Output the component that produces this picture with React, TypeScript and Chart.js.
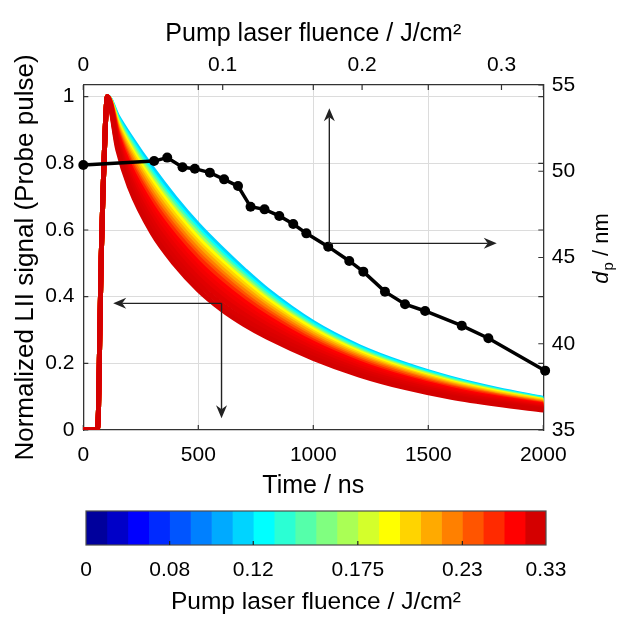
import React, { useEffect, useRef } from "react";
import { Chart, registerables } from "chart.js";

Chart.register(...registerables);

const FONT = "'Liberation Sans', Arial, Helvetica, sans-serif";

// ---------- axis ticks ----------
const timeTicks = [0, 500, 1000, 1500, 2000];
const signalTicks = [0, 0.2, 0.4, 0.6, 0.8, 1];
const signalTickLabels = ["0", "0.2", "0.4", "0.6", "0.8", "1"];
const fluenceTicks = [0, 0.1, 0.2, 0.3];
const fluenceTickLabels = ["0", "0.1", "0.2", "0.3"];
const dpTicks = [35, 40, 45, 50, 55];

// ---------- LII signals (time in ns) ----------
const riseTimes = [0, 30, 60, 66, 72, 78, 86, 94, 100, 104];
const riseSignal = [0, 0, 0, 0.06, 0.3, 0.52, 0.72, 0.88, 0.97, 1.0];
const decayTimes = [150, 200, 300, 400, 500, 600, 700, 800, 1000, 1200, 1400, 1600, 1800, 2000];

const liiSkyBlue = [0.94, 0.885, 0.785, 0.695, 0.615, 0.545, 0.48, 0.42, 0.322, 0.25, 0.197, 0.155, 0.122, 0.095];
const liiCyan = [0.934, 0.876, 0.773, 0.683, 0.603, 0.534, 0.47, 0.412, 0.316, 0.245, 0.193, 0.152, 0.119, 0.093];
const liiMint = [0.929, 0.868, 0.764, 0.673, 0.594, 0.525, 0.462, 0.404, 0.31, 0.241, 0.189, 0.149, 0.117, 0.091];
const liiLime = [0.924, 0.86, 0.754, 0.663, 0.584, 0.516, 0.454, 0.397, 0.305, 0.236, 0.186, 0.146, 0.115, 0.089];
const liiYellow = [0.919, 0.852, 0.744, 0.653, 0.574, 0.507, 0.446, 0.39, 0.3, 0.232, 0.182, 0.143, 0.113, 0.088];
const liiGold = [0.913, 0.843, 0.732, 0.641, 0.562, 0.496, 0.436, 0.382, 0.293, 0.227, 0.178, 0.14, 0.11, 0.086];
const liiAmber = [0.907, 0.834, 0.721, 0.629, 0.551, 0.485, 0.426, 0.373, 0.287, 0.222, 0.174, 0.136, 0.107, 0.083];
const liiOrange = [0.901, 0.825, 0.709, 0.617, 0.539, 0.474, 0.416, 0.365, 0.28, 0.217, 0.17, 0.133, 0.104, 0.081];
const liiDarkOrange = [0.895, 0.815, 0.697, 0.605, 0.527, 0.463, 0.406, 0.356, 0.274, 0.212, 0.166, 0.129, 0.102, 0.079];
const liiRedOrange = [0.889, 0.806, 0.686, 0.593, 0.516, 0.452, 0.396, 0.348, 0.267, 0.207, 0.161, 0.126, 0.099, 0.077];
const liiRed1 = [0.882, 0.795, 0.672, 0.579, 0.502, 0.439, 0.385, 0.338, 0.26, 0.201, 0.156, 0.122, 0.096, 0.075];
const liiRed2 = [0.874, 0.783, 0.656, 0.563, 0.486, 0.424, 0.372, 0.326, 0.251, 0.194, 0.151, 0.117, 0.092, 0.072];
const liiRed3 = [0.866, 0.77, 0.641, 0.547, 0.471, 0.41, 0.359, 0.315, 0.243, 0.187, 0.145, 0.113, 0.089, 0.069];
const liiRed4 = [0.858, 0.758, 0.625, 0.531, 0.455, 0.395, 0.346, 0.304, 0.234, 0.18, 0.14, 0.108, 0.085, 0.066];
const liiRed5 = [0.849, 0.744, 0.608, 0.513, 0.438, 0.378, 0.331, 0.291, 0.225, 0.173, 0.133, 0.103, 0.081, 0.063];
const liiDarkRed = [0.84, 0.73, 0.59, 0.495, 0.42, 0.362, 0.316, 0.278, 0.215, 0.165, 0.127, 0.098, 0.077, 0.06];

// drawn in this order: first = bottom, last = on top
const liiSeries = [liiSkyBlue, liiCyan, liiMint, liiLime, liiYellow, liiGold, liiAmber, liiOrange, liiDarkOrange, liiRedOrange, liiRed1, liiRed2, liiRed3, liiRed4, liiRed5, liiDarkRed];
const liiColors = ["#00D2FF", "#00FFFF", "#55FFAA", "#AAFF55", "#FFFF00", "#FFD500", "#FFAA00", "#FF8000", "#FF5500", "#FF2A00", "#FF0000", "#F40000", "#EA0000", "#E00000", "#DA0000", "#D40000"];

// ---------- particle diameter vs fluence ----------
const fluence = [0, 0.0508, 0.0602, 0.0712, 0.08, 0.0908, 0.101, 0.111, 0.12, 0.13, 0.1406, 0.1506, 0.16, 0.1757, 0.1908, 0.2009, 0.2164, 0.2308, 0.2452, 0.2715, 0.2906, 0.3313];
const particleDiameter = [50.36, 50.59, 50.79, 50.23, 50.15, 49.92, 49.53, 49.14, 47.94, 47.79, 47.41, 46.94, 46.4, 45.63, 44.8, 44.18, 43.02, 42.29, 41.9, 41.05, 40.32, 38.44];

// ---------- arrows (data coordinates) ----------
const arrowDpCorner = [0.1765, 45.82]; // fluence, d_p
const arrowDpUpTip = 53.65; // d_p
const arrowDpRightTip = 0.2966; // fluence
const arrowLiiCorner = [601, 0.38]; // ns, signal
const arrowLiiLeftTip = 130; // ns
const arrowLiiDownTip = 0.035; // signal

// ---------- colour bar ----------
const cbColors = ["#00009C", "#0000C8", "#0000FF", "#002AFF", "#0055FF", "#0080FF", "#00AAFF", "#00D4FF", "#00FFFF", "#2BFFD4", "#55FFAA", "#80FF80", "#AAFF55", "#D4FF2B", "#FFFF00", "#FFD400", "#FFAA00", "#FF8000", "#FF5500", "#FF2A00", "#FF0000", "#D40000"];
const cbTickPositions = [0, 4, 8, 13, 18, 22];
const cbTickLabels = ["0", "0.08", "0.12", "0.175", "0.23", "0.33"];

const AXIS_COLOR = "#333333";
const GRID_COLOR = "#DCDCDC";

function drawArrow(ctx: any, x1: number, y1: number, x2: number, y2: number) {
  const len = 13, half = 5.5, notch = 4;
  const ang = Math.atan2(y2 - y1, x2 - x1);
  const c = Math.cos(ang), s = Math.sin(ang);
  const nx = x2 - c * (len - notch), ny = y2 - s * (len - notch);
  ctx.beginPath();
  ctx.moveTo(x1, y1);
  ctx.lineTo(nx, ny);
  ctx.stroke();
  const bx = x2 - c * len, by = y2 - s * len;
  const px = -s, py = c;
  ctx.beginPath();
  ctx.moveTo(x2, y2);
  ctx.lineTo(bx + px * half, by + py * half);
  ctx.lineTo(nx, ny);
  ctx.lineTo(bx - px * half, by - py * half);
  ctx.closePath();
  ctx.fill();
}

const insideTicksPlugin = {
  id: "insideTicks",
  beforeDatasetsDraw(chart: any) {
    const { ctx, chartArea: a, scales } = chart;
    const L = 5;
    ctx.save();
    ctx.strokeStyle = AXIS_COLOR;
    ctx.lineWidth = 1.2;
    ctx.beginPath();
    timeTicks.forEach((v) => {
      const x = scales.x.getPixelForValue(v);
      ctx.moveTo(x, a.bottom); ctx.lineTo(x, a.bottom - L);
      ctx.moveTo(x, a.top); ctx.lineTo(x, a.top + L);
    });
    signalTicks.forEach((v) => {
      const y = scales.y.getPixelForValue(v);
      ctx.moveTo(a.left, y); ctx.lineTo(a.left + L, y);
      ctx.moveTo(a.right, y); ctx.lineTo(a.right - L, y);
    });
    fluenceTicks.forEach((v) => {
      const x = scales.xTop.getPixelForValue(v);
      ctx.moveTo(x, a.top); ctx.lineTo(x, a.top + L);
    });
    dpTicks.forEach((v) => {
      const y = scales.yRight.getPixelForValue(v);
      ctx.moveTo(a.right, y); ctx.lineTo(a.right - L, y);
    });
    ctx.stroke();
    ctx.restore();
  },
};

const arrowsPlugin = {
  id: "arrows",
  afterDatasetsDraw(chart: any) {
    const { ctx, scales } = chart;
    ctx.save();
    ctx.strokeStyle = "#222222";
    ctx.fillStyle = "#222222";
    ctx.lineWidth = 1.4;
    const cx = scales.xTop.getPixelForValue(arrowDpCorner[0]);
    const cy = scales.yRight.getPixelForValue(arrowDpCorner[1]);
    drawArrow(ctx, cx, cy, cx, scales.yRight.getPixelForValue(arrowDpUpTip));
    drawArrow(ctx, cx, cy, scales.xTop.getPixelForValue(arrowDpRightTip), cy);
    const lx = scales.x.getPixelForValue(arrowLiiCorner[0]);
    const ly = scales.y.getPixelForValue(arrowLiiCorner[1]);
    drawArrow(ctx, lx, ly, scales.x.getPixelForValue(arrowLiiLeftTip), ly);
    drawArrow(ctx, lx, ly, lx, scales.y.getPixelForValue(arrowLiiDownTip));
    ctx.restore();
  },
};

const dpTitlePlugin = {
  id: "dpTitle",
  afterDraw(chart: any) {
    const { ctx } = chart;
    const mainFont = `22px ${FONT}`;
    const italFont = `italic 22px ${FONT}`;
    const subFont = `15px ${FONT}`;
    ctx.save();
    ctx.fillStyle = "#000";
    ctx.textBaseline = "alphabetic";
    ctx.textAlign = "left";
    ctx.font = italFont;
    const wd = ctx.measureText("d").width;
    ctx.font = subFont;
    const wp = ctx.measureText("p").width;
    ctx.font = mainFont;
    const wr = ctx.measureText(" / nm").width;
    const total = wd + wp + wr;
    ctx.translate(608, 249);
    ctx.rotate(-Math.PI / 2);
    let x0 = -total / 2;
    ctx.font = italFont;
    ctx.fillText("d", x0, 0);
    x0 += wd + 1;
    ctx.font = subFont;
    ctx.fillText("p", x0, 5);
    x0 += wp;
    ctx.font = mainFont;
    ctx.fillText(" / nm", x0, 0);
    ctx.restore();
  },
};

const colorbarFramePlugin = {
  id: "cbFrame",
  afterDatasetsDraw(chart: any) {
    const { ctx, chartArea: a, scales } = chart;
    ctx.save();
    ctx.strokeStyle = "#4D4D4D";
    ctx.lineWidth = 1.2;
    ctx.strokeRect(a.left, a.top, a.right - a.left, a.bottom - a.top);
    ctx.beginPath();
    cbTickPositions.slice(1, -1).forEach((v) => {
      const x = scales.x.getPixelForValue(v);
      ctx.moveTo(x, a.bottom);
      ctx.lineTo(x, a.bottom - 4);
    });
    ctx.strokeStyle = "#222";
    ctx.stroke();
    ctx.restore();
  },
};

function edgeTransparent(edges: number[]) {
  return (c: any) => (c.tick && edges.includes(c.tick.value) ? "rgba(0,0,0,0)" : GRID_COLOR);
}

export default function App() {
  const mainRef = useRef<HTMLCanvasElement>(null);
  const cbRef = useRef<HTMLCanvasElement>(null);

  useEffect(() => {
    const tickFont = { size: 21, family: FONT };
    const titleFont = { size: 25, family: FONT };

    const riseData = riseTimes.map((t, i) => ({ x: t, y: riseSignal[i] }));
    const liiDatasets = liiSeries
      .map((vals, k) => ({
        label: `lii${k}`,
        data: riseData.concat(decayTimes.map((t, i) => ({ x: t, y: vals[i] }))),
        borderColor: liiColors[k],
        backgroundColor: liiColors[k],
        borderWidth: 5,
        pointRadius: 0,
        cubicInterpolationMode: "monotone" as const,
        borderCapStyle: "round" as const,
        borderJoinStyle: "round" as const,
        xAxisID: "x",
        yAxisID: "y",
      }))
      .reverse();

    const dpDataset = {
      label: "dp",
      data: fluence.map((f, i) => ({ x: f, y: particleDiameter[i] })),
      borderColor: "#000",
      backgroundColor: "#000",
      borderWidth: 3.5,
      pointRadius: 5,
      pointBorderWidth: 0,
      pointBackgroundColor: "#000",
      tension: 0,
      clip: false as const,
      xAxisID: "xTop",
      yAxisID: "yRight",
    };

    const main = new Chart(mainRef.current as HTMLCanvasElement, {
      type: "line",
      data: { datasets: [dpDataset as any, ...liiDatasets] },
      options: {
        responsive: false,
        animation: false,
        maintainAspectRatio: false,
        layout: { padding: 0 },
        plugins: { legend: { display: false }, tooltip: { enabled: false } },
        scales: {
          x: {
            type: "linear",
            position: "bottom",
            min: 0,
            max: 2000,
            afterBuildTicks: (s: any) => { s.ticks = timeTicks.map((v) => ({ value: v })); },
            afterFit: (s: any) => { s.height = 75; },
            ticks: { callback: (v: any) => String(v), font: tickFont, color: "#000", padding: 12.4, autoSkip: false, maxRotation: 0 },
            grid: { drawTicks: false, color: edgeTransparent([0, 2000]), lineWidth: 1 },
            border: { display: true, color: AXIS_COLOR, width: 1.3 },
            title: { display: true, text: "Time / ns", font: titleFont, color: "#000", padding: { top: 0, bottom: 3.7 } },
          },
          xTop: {
            type: "linear",
            position: "top",
            min: 0,
            max: 0.33,
            afterBuildTicks: (s: any) => { s.ticks = fluenceTicks.map((v) => ({ value: v })); },
            afterFit: (s: any) => { s.height = 85; },
            ticks: { callback: (v: any) => fluenceTickLabels[fluenceTicks.indexOf(v)] ?? "", font: tickFont, color: "#000", padding: 6.9, autoSkip: false, maxRotation: 0 },
            grid: { display: false, drawTicks: false },
            border: { display: true, color: AXIS_COLOR, width: 1.3 },
            title: { display: true, text: "Pump laser fluence / J/cm²", font: titleFont, color: "#000", padding: { top: 19, bottom: 0 } },
          },
          y: {
            type: "linear",
            position: "left",
            min: 0,
            max: 1.035,
            afterBuildTicks: (s: any) => { s.ticks = signalTicks.map((v) => ({ value: v })); },
            afterFit: (s: any) => { s.width = 83.3; },
            ticks: { callback: (v: any) => signalTickLabels[signalTicks.indexOf(v)] ?? "", font: tickFont, color: "#000", padding: 8.8, autoSkip: false },
            grid: { drawTicks: false, color: edgeTransparent([0]), lineWidth: 1 },
            border: { display: true, color: AXIS_COLOR, width: 1.3 },
            title: { display: true, text: "Normalized LII signal (Probe pulse)", font: { size: 26, family: FONT }, color: "#000", padding: { top: 10, bottom: 0 } },
          },
          yRight: {
            type: "linear",
            position: "right",
            min: 35,
            max: 55,
            afterBuildTicks: (s: any) => { s.ticks = dpTicks.map((v) => ({ value: v })); },
            afterFit: (s: any) => { s.width = 81.7; },
            ticks: { callback: (v: any) => String(v), font: tickFont, color: "#000", padding: 8.5, autoSkip: false },
            grid: { display: false, drawTicks: false },
            border: { display: true, color: AXIS_COLOR, width: 1.3 },
          },
        } as any,
      },
      plugins: [insideTicksPlugin, arrowsPlugin, dpTitlePlugin],
    });

    const cb = new Chart(cbRef.current as HTMLCanvasElement, {
      type: "bar",
      data: {
        labels: [""],
        datasets: cbColors.map((c, i) => ({
          label: `c${i}`,
          data: [[i, i + 1]] as any,
          backgroundColor: c,
          borderWidth: 0,
          barPercentage: 1,
          categoryPercentage: 1,
          grouped: false,
        })),
      },
      options: {
        indexAxis: "y",
        responsive: false,
        animation: false,
        maintainAspectRatio: false,
        layout: { padding: { left: 86, right: 79, top: 16, bottom: 0 } },
        plugins: { legend: { display: false }, tooltip: { enabled: false } },
        scales: {
          x: {
            type: "linear",
            position: "bottom",
            min: 0,
            max: 22,
            afterBuildTicks: (s: any) => { s.ticks = cbTickPositions.map((v) => ({ value: v })); },
            afterFit: (s: any) => { s.height = 78; },
            ticks: { callback: (v: any) => cbTickLabels[cbTickPositions.indexOf(v)] ?? "", font: tickFont, color: "#000", padding: 12.4, autoSkip: false, maxRotation: 0 },
            grid: { display: false, drawTicks: false },
            border: { display: false },
            title: { display: true, text: "Pump laser fluence / J/cm²", font: { size: 24.5, family: FONT }, color: "#000", padding: { top: 0, bottom: 6.3 } },
          },
          y: { type: "category", display: false, offset: true },
        } as any,
      },
      plugins: [colorbarFramePlugin],
    });

    return () => {
      main.destroy();
      cb.destroy();
    };
  }, []);

  return (
    <div style={{ position: "absolute", left: 0, top: 0, width: 625, height: 619, background: "#fff", overflow: "hidden" }}>
      <canvas ref={mainRef} width={625} height={505} style={{ position: "absolute", left: 0, top: 0 }} />
      <canvas ref={cbRef} width={625} height={128} style={{ position: "absolute", left: 0, top: 495 }} />
    </div>
  );
}
